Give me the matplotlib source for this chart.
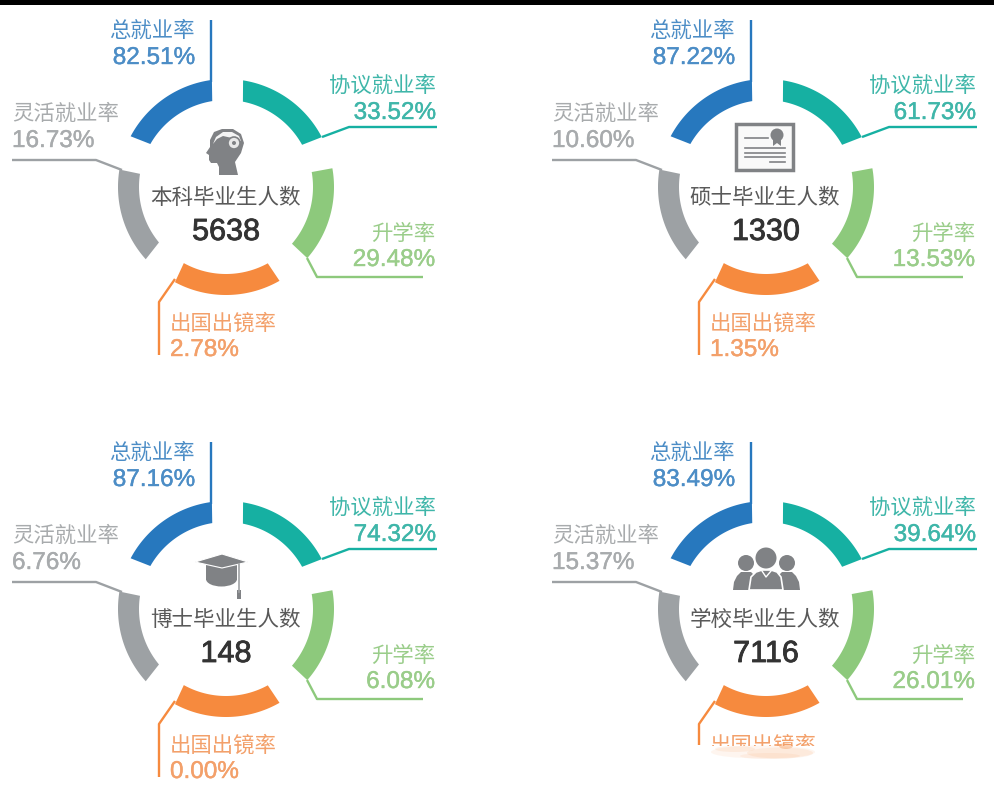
### four ring panels with graduate employment rates
import matplotlib
matplotlib.use("Agg")
import matplotlib.pyplot as plt
import matplotlib.patheffects as pe
import numpy as np
from matplotlib.patches import Polygon, Circle, Rectangle, Ellipse

plt.rcParams['font.family'] = ['Liberation Sans', 'Noto Sans CJK SC']

# data
titles = ['本科毕业生人数', '硕士毕业生人数', '博士毕业生人数', '学校毕业生人数']
counts = ['5638', '1330', '148', '7116']
total_rate = ['82.51%', '87.22%', '87.16%', '83.49%']
agreement_rate = ['33.52%', '61.73%', '74.32%', '39.64%']
further_rate = ['29.48%', '13.53%', '6.08%', '26.01%']
abroad_rate = ['2.78%', '1.35%', '0.00%', '']
flexible_rate = ['16.73%', '10.60%', '6.76%', '15.37%']

BLUE, TEAL, GREEN, ORANGE, GRAY = '#2778BE', '#16B0A2', '#8DC97C', '#F68A3E', '#9DA1A4'
T_BLUE, T_TEAL, T_GREEN, T_ORANGE, T_GRAY = '#4C8DC6', '#3FB6A9', '#9ACD8A', '#F3A06A', '#A8ABAD'
ICON = '#808285'

fig = plt.figure(figsize=(9.94, 8.0), dpi=100)
ax = fig.add_axes([0, 0, 1, 1])
ax.set_xlim(0, 994)
ax.set_ylim(800, 0)
ax.axis('off')

ax.add_patch(Rectangle((0, 0), 994, 5, color='black', lw=0))

offsets = [(0, 0), (540, 0), (0, 422), (540, 422)]
CX, CY, R_OUT, R_IN = 226, 187, 108, 87


def arc(dx, dy, o1, o2, i1, i2, color):
    # outer and inner edge have their own end angles, the gaps have parallel sides
    to = np.radians(np.linspace(o1, o2, 60))
    ti = np.radians(np.linspace(i2, i1, 60))
    xs = np.r_[CX + dx + R_OUT * np.cos(to), CX + dx + R_IN * np.cos(ti)]
    ys = np.r_[CY + dy + R_OUT * np.sin(to), CY + dy + R_IN * np.sin(ti)]
    ax.add_patch(Polygon(np.c_[xs, ys], color=color, lw=0))


def leader(dx, dy, xs, ys, color):
    ax.plot([x + dx for x in xs], [y + dy for y in ys], color=color, lw=1.7,
            solid_joinstyle='round', solid_capstyle='butt')


def label(x, y, s, color, ha, size=15.4):
    return ax.text(x, y + 2, s, color=color, ha=ha, va='center', fontsize=size)


def value(x, y, s, color, ha):
    t = label(x, y, s, color, ha, 17.5)
    t.set_path_effects([pe.withStroke(linewidth=0.3, foreground=color)])
    return t


def shape(dx, dy, pts, **kw):
    ax.add_patch(Polygon([(x + dx, y + dy) for x, y in pts], **kw))


def head_icon(dx, dy):
    shape(dx, dy, [(219, 175), (238, 175), (235, 162), (241, 153), (244, 143), (241, 134), (233, 129),
                   (222, 129), (214, 132), (210, 140), (210, 147), (206, 153), (209, 155), (209, 160),
                   (211, 163), (217, 163), (219, 167)], color=ICON, lw=0)
    shape(dx, dy, [(213, 144), (216, 137), (223, 132), (232, 132), (239, 136), (241, 141), (232, 138),
                   (223, 136), (217, 139)], color='#F4F4F4', lw=0)
    ax.add_patch(Circle((234 + dx, 143 + dy), 6, fc='#E8E8E8', ec=ICON, lw=1.2))
    ax.add_patch(Circle((234 + dx, 143 + dy), 2, color=ICON, lw=0))


def diploma_icon(dx, dy):
    x0 = 196 + dx
    ax.add_patch(Rectangle((x0, 124 + dy), 57, 46, fc='#F9F9F9', ec=ICON, lw=2.5))
    ax.add_patch(Circle((x0 + 41, 135 + dy), 6.5, color=ICON, lw=0))
    shape(x0, dy, [(37, 139), (45, 139), (45, 146), (41, 143), (37, 146)], color=ICON, lw=0)
    for y, a, b in [(138, 9, 32), (148, 9, 49), (153, 9, 49), (157, 9, 49), (162, 34, 49)]:
        ax.plot([x0 + a, x0 + b], [y + dy, y + dy], color=ICON, lw=1.2)


def cap_icon(dx, dy):
    shape(dx, dy, [(206, 140), (237, 140), (237, 158), (206, 158)], color=ICON, lw=0)
    ax.add_patch(Ellipse((221.5 + dx, 157 + dy), 31, 15, color=ICON, lw=0))
    shape(dx, dy, [(195, 140), (222, 132), (248, 140), (222, 146)], fc=ICON, ec='white', lw=0.8)
    ax.plot([239 + dx, 239 + dx], [142 + dy, 170 + dy], color='#A0A2A4', lw=1.2)
    ax.add_patch(Rectangle((237 + dx, 168 + dy), 4, 9, color=ICON, lw=0))


def people_icon(dx, dy):
    for hx, x0, x1 in [(206, 193, 219), (247, 234, 260)]:
        ax.add_patch(Circle((hx + dx, 141 + dy), 8, color=ICON, lw=0))
        shape(dx, dy, [(x0, 168), (x0 + 1, 160), (x0 + 4, 154), (hx - 5, 150), (hx + 5, 150),
                       (x1 - 4, 154), (x1 - 1, 160), (x1, 168)], color=ICON, lw=0)
    ax.add_patch(Circle((226 + dx, 136 + dy), 10.5, color=ICON, lw=0))
    shape(dx, dy, [(209, 168), (211, 155), (216, 150), (222, 148), (231, 148), (237, 150),
                   (241, 155), (243, 168)], fc=ICON, ec='white', lw=1.2)
    ax.plot([222 + dx, 226 + dx, 231 + dx], [149 + dy, 155 + dy, 149 + dy], color='white', lw=1.0)


icons = [head_icon, diploma_icon, cap_icon, people_icon]

for i, (dx, dy) in enumerate(offsets):
    arc(dx, dy, 208, 262.5, 209.6, 260.9, BLUE)
    arc(dx, dy, 279.1, 332.5, 281.2, 331, TEAL)
    arc(dx, dy, -10, 41.2, -9.9, 40.7, GREEN)
    arc(dx, dy, 60.3, 118.2, 61.3, 119, ORANGE)
    arc(dx, dy, 138, 189.3, 140.4, 188.7, GRAY)

    leader(dx, dy, [211, 211], [20, 82], BLUE)
    leader(dx, dy, [322, 349, 437], [137, 127, 127], TEAL)
    leader(dx, dy, [12, 96, 122], [160, 160, 170], GRAY)
    leader(dx, dy, [307, 317, 423], [258, 277, 277], GREEN)
    if i < 3:
        leader(dx, dy, [175, 159, 159], [279, 302, 355], ORANGE)
    else:
        leader(dx, dy, [175, 159, 159], [279, 302, 323], ORANGE)

    label(195 + dx, 29 + dy, '总就业率', T_BLUE, 'right')
    value(195 + dx, 56 + dy, total_rate[i], T_BLUE, 'right')
    label(436 + dx, 84 + dy, '协议就业率', T_TEAL, 'right')
    value(436 + dx, 111 + dy, agreement_rate[i], T_TEAL, 'right')
    label(12 + dx, 112 + dy, '灵活就业率', T_GRAY, 'left')
    value(12 + dx, 139 + dy, flexible_rate[i], T_GRAY, 'left')
    label(435 + dx, 232 + dy, '升学率', T_GREEN, 'right')
    value(435 + dx, 258 + dy, further_rate[i], T_GREEN, 'right')

    t = label(170 + dx, 321 + dy, '出国出镜率', T_ORANGE, 'left')
    if i == 3:
        # bottom of this panel is smudged out in the source
        t.set_clip_on(True)
        t.set_clip_path(Rectangle((700, 700), 140, 46, transform=ax.transData))
    value(170 + dx, 348 + dy, abroad_rate[i], T_ORANGE, 'left')

    label(225 + dx, 196 + dy, titles[i], '#595959', 'center', 15.5)
    n = ax.text(226 + dx, 232 + dy, counts[i], color='#333333', ha='center', va='center', fontsize=22)
    n.set_path_effects([pe.withStroke(linewidth=0.6, foreground='#333333')])
    icons[i](dx, dy)

# smudge under the cut label
for x, y, w, h, a in [(763, 752, 104, 13, 0.08), (735, 749, 40, 6, 0.10), (780, 753, 66, 11, 0.10),
                      (786, 746, 14, 6, 0.35), (770, 756, 60, 6, 0.08)]:
    ax.add_patch(Ellipse((x, y), w, h, color=ORANGE, alpha=a, lw=0))

fig.savefig('out.png', dpi=100)
